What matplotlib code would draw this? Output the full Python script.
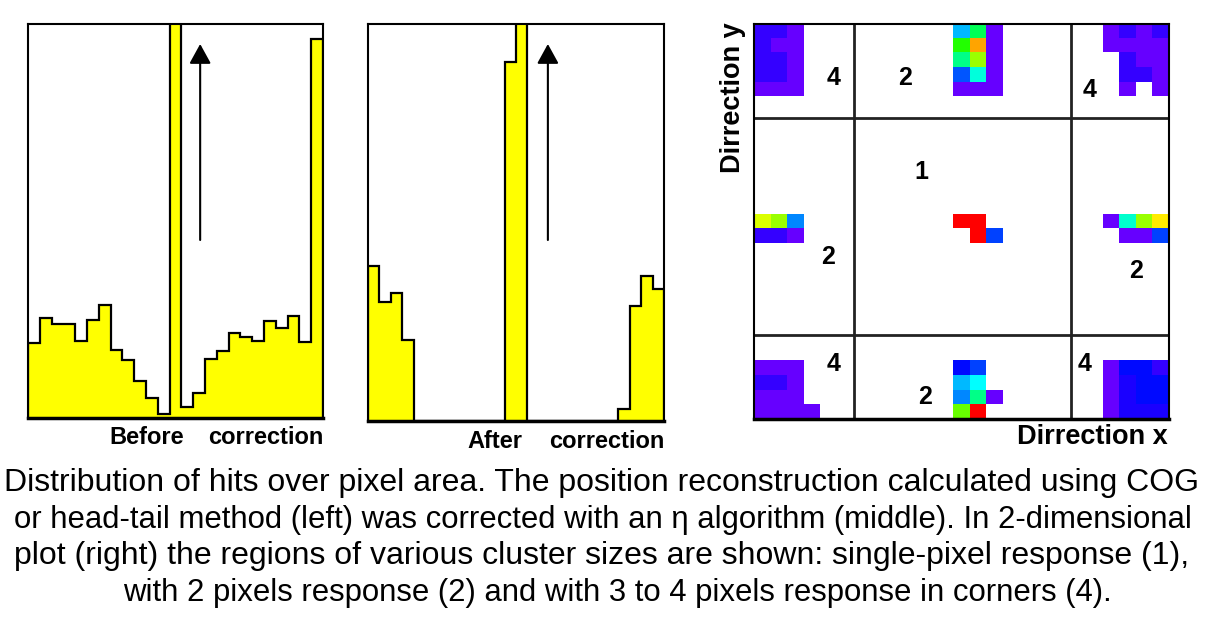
import matplotlib.pyplot as plt
import numpy as np
from matplotlib.colors import LinearSegmentedColormap

plt.rcParams['font.family'] = ['Liberation Sans', 'DejaVu Sans']

# hits per bin across one pixel, before correction (25 bins)
before_counts = [75, 100, 94, 94, 77, 98, 113, 68, 58, 37, 20, 4, 420,
                 11, 25, 59, 67, 85, 81, 77, 97, 90, 102, 76, 379]
# after the eta correction (26 bins)
after_counts = [155, 119, 128, 81, 0, 0, 0, 0, 0, 0, 0, 0, 359, 420,
                0, 0, 0, 0, 0, 0, 0, 0, 12, 115, 145, 132]

# 2D map (27 rows x 25 cols), colour level 0..1, None = no hits
N = None
top_left = [[.1, .1, 0], [.1, 0, 0], [.1, .1, 0], [.1, .1, 0], [0, 0, 0]]
top_mid = [[.347, .533, 0], [.627, .871, 0], [.493, .72, 0],
           [.267, .427, 0], [0, 0, 0]]
top_right = [[0, .1, 0, .1], [0, 0, 0, 0], [N, .1, 0, 0],
             [N, .1, .1, 0], [N, 0, N, 0]]
mid_left = [[.773, .72, .307], [.1, .1, 0]]
centre = [[1, 1, N], [N, 1, .253]]
mid_right = [[0, .44, .72, .813], [N, 0, 0, .253]]
bot_left = [[0, 0, 0, N], [.1, .1, 0, N], [0, 0, 0, N], [0, 0, 0, 0]]
bot_mid = [[.21, .253, N], [.347, .4, N], [.307, .493, 0], [.68, 1, N]]
bot_right = [[0, .21, .21, .1], [0, .15, .21, .21],
             [0, .15, .21, .21], [0, .15, .15, .15]]

clusters = [(top_left, 0, 0), (top_mid, 0, 12), (top_right, 0, 21),
            (mid_left, 13, 0), (centre, 13, 12), (mid_right, 13, 21),
            (bot_left, 23, 0), (bot_mid, 23, 12), (bot_right, 23, 21)]

region_x = [6.05, 19.1]
region_y = [6.38, 21.26]
region_labels = [('4', 4.82, 3.66), ('2', 9.13, 3.66), ('4', 20.24, 4.47),
                 ('1', 10.06, 10.1), ('2', 4.48, 15.88), ('2', 23.0, 16.85),
                 ('4', 4.78, 23.2), ('2', 10.3, 25.45), ('4', 19.94, 23.2)]

caption = [
    "Distribution of hits over pixel area. The position reconstruction calculated using COG",
    "or head-tail method (left) was corrected with an \u03b7 algorithm (middle). In 2-dimensional",
    "plot (right) the regions of various cluster sizes are shown: single-pixel response (1),",
    "with 2 pixels response (2) and with 3 to 4 pixels response in corners (4).",
]

W, H = 1206, 618
fig = plt.figure(figsize=(W / 100, H / 100), dpi=100)


def box(x0, y0, x1, y1):
    # pixel box -> figure fraction rect
    return [x0 / W, 1 - y1 / H, (x1 - x0) / W, (y1 - y0) / H]


def hist_panel(rect, counts, ytop, arrow_x, arrow_y):
    ax = fig.add_axes(rect)
    edges = np.arange(len(counts) + 1)
    ax.stairs(counts, edges, fill=True, color='#ffff00', baseline=0)
    ax.stairs(counts, edges, color='black', lw=1.6, baseline=0)
    ax.set_xlim(0, len(counts))
    ax.set_ylim(0, ytop)
    ax.set_xticks([])
    ax.set_yticks([])
    for s in ax.spines.values():
        s.set_linewidth(1.5)
    ax.spines['bottom'].set_linewidth(2.5)
    ax.annotate('', xy=(arrow_x, arrow_y[1]), xytext=(arrow_x, arrow_y[0]),
                arrowprops=dict(arrowstyle='-|>,head_length=0.4,head_width=0.22',
                                mutation_scale=30, lw=1.5, color='black',
                                shrinkA=0, shrinkB=0))
    return ax


hist_panel(box(28, 24, 323, 418), before_counts, 394, 14.59, (178, 374))
hist_panel(box(368, 24, 664, 421), after_counts, 397, 15.8, (181, 377))

# right panel: cluster map
hit_map = np.full((27, 25), np.nan)
for cells, r0, c0 in clusters:
    for i, row in enumerate(cells):
        for j, v in enumerate(row):
            if v is not None:
                hit_map[r0 + i, c0 + j] = v

cmap = LinearSegmentedColormap.from_list(
    'hits', ['#6600ff', '#0000ff', '#00ffff', '#00ff00', '#ffff00', '#ff0000'])
cmap.set_bad('white')

ax3 = fig.add_axes(box(754, 24.3, 1169, 419.3))
ax3.imshow(hit_map, cmap=cmap, vmin=0, vmax=1, extent=(0, 25, 27, 0),
           aspect='auto', interpolation='nearest')
for x in region_x:
    ax3.axvline(x, color='#222222', lw=2)
for y in region_y:
    ax3.axhline(y, color='#222222', lw=2)
for txt, x, y in region_labels:
    ax3.text(x, y, txt, ha='center', va='center', fontsize=18,
             fontweight='bold')
ax3.set_xlim(0, 25)
ax3.set_ylim(27, 0)
ax3.set_xticks([])
ax3.set_yticks([])
for s in ax3.spines.values():
    s.set_linewidth(1.5)
ax3.spines['bottom'].set_linewidth(2.5)

# axis captions
fig.text(146.5 / W, 1 - 437 / H, 'Before', ha='center', va='center',
         fontsize=17, fontweight='bold')
fig.text(266 / W, 1 - 437 / H, 'correction', ha='center', va='center',
         fontsize=17, fontweight='bold')
fig.text(494.5 / W, 1 - 441 / H, 'After', ha='center', va='center',
         fontsize=17, fontweight='bold')
fig.text(607 / W, 1 - 441 / H, 'correction', ha='center', va='center',
         fontsize=17, fontweight='bold')
fig.text(1092 / W, 1 - 437 / H, 'Dirrection x', ha='center', va='center',
         fontsize=19.5, fontweight='bold')
fig.text(733 / W, 1 - 98 / H, 'Dirrection y', ha='center', va='center',
         fontsize=19.5, fontweight='bold', rotation=90)

line_y = [483, 520, 556, 593]
line_x = [601.5, 603, 602, 617]
line_size = [23, 22.4, 23, 22.4]
for txt, x, y, fs in zip(caption, line_x, line_y, line_size):
    fig.text(x / W, 1 - y / H, txt, ha='center', va='center', fontsize=fs)

fig.savefig('out.png', dpi=100)
